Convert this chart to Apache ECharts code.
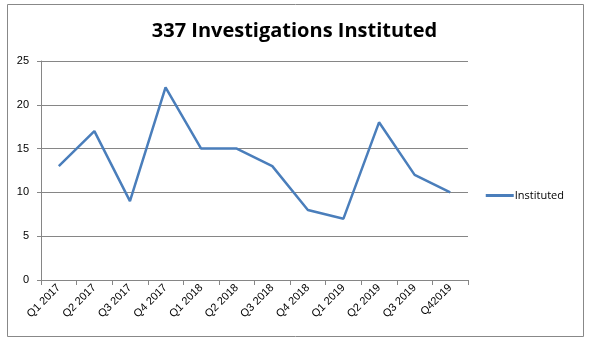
<!DOCTYPE html>
<html><head><meta charset="utf-8">
<script src="https://cdn.jsdelivr.net/npm/echarts@6/dist/echarts.min.js"></script>
<style>html,body{margin:0;padding:0;background:#fff}#c{width:589px;height:346px}</style>
</head><body><div id="c"></div>
<script>
const categories = ['Q1 2017','Q2 2017','Q3 2017','Q4 2017','Q1 2018','Q2 2018','Q3 2018','Q4 2018','Q1 2019','Q2 2019','Q3 2019','Q42019'];
const instituted = [13,17,9,22,15,15,13,8,7,18,12,10];
const yTicks = {min:0,max:25,interval:5};
const chart = echarts.init(document.getElementById('c'));
const font = 'Liberation Sans, Arial, sans-serif';
chart.setOption({
  animation:false,
  graphic:[{type:'rect',shape:{x:7.5,y:4.5,width:576,height:332},style:{fill:'none',stroke:'#888',lineWidth:1},silent:true}],
  title:{text:'337 Investigations Instituted',left:'center',top:16,textStyle:{fontFamily:'Open Sans, sans-serif',fontWeight:'bold',fontSize:20,color:'#000'}},
  legend:{right:20,top:185,itemWidth:28,itemHeight:3,icon:'rect',itemGap:0,textStyle:{fontFamily:'Open Sans, sans-serif',fontSize:11,color:'#000',padding:[0,0,0,-4]},data:['Instituted']},
  grid:{left:41,right:121,top:61,bottom:66},
  xAxis:{type:'category',data:categories,boundaryGap:true,
    axisLine:{lineStyle:{color:'#868686'}},
    axisTick:{show:true,length:5,interval:0,lineStyle:{color:'#868686'}},
    axisLabel:{rotate:45,interval:0,fontFamily:font,fontSize:11,color:'#000',margin:6}},
  yAxis:{type:'value',min:yTicks.min,max:yTicks.max,interval:yTicks.interval,
    axisLine:{show:true,lineStyle:{color:'#868686'}},
    axisTick:{show:true,length:4,lineStyle:{color:'#868686'}},
    splitLine:{lineStyle:{color:'#868686'}},
    axisLabel:{fontFamily:font,fontSize:11,color:'#000',margin:12}},
  series:[{name:'Instituted',type:'line',data:instituted,symbol:'none',lineStyle:{color:'#4a7ebb',width:2.5},itemStyle:{color:'#4a7ebb'}}]
});
</script></body></html>
